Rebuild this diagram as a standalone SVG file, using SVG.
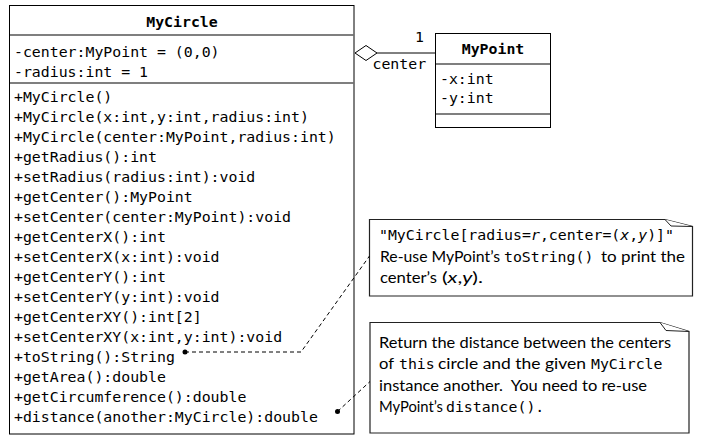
<svg xmlns="http://www.w3.org/2000/svg" width="703" height="443" viewBox="0 0 703 443">
<style>
.mono{font-family:"DejaVu Sans Mono","Liberation Mono",monospace;font-size:14.85px;fill:#000}
.b{font-weight:bold}
.sans{font-family:Lato,"Liberation Sans",sans-serif;font-size:15.5px;fill:#000}
.it{font-style:italic}
.box{fill:#fff;stroke:#000;stroke-width:1}
.sep{stroke:#555;stroke-width:1.4;fill:none}
.note{fill:#fff;stroke:#222;stroke-width:1.2}
.fold{fill:#fff;stroke:#222;stroke-width:1}
.dash{stroke:#000;stroke-width:1;stroke-dasharray:4 3;fill:none}
.line{stroke:#000;stroke-width:1;fill:none}
</style>
<rect width="703" height="443" fill="#fff"/>
<g id="MyCircle">
<rect class="box" x="9.5" y="5.5" width="344.5" height="428.5"/>
<line class="sep" x1="10" y1="35" x2="353.5" y2="35"/>
<line class="sep" x1="10" y1="83" x2="353.5" y2="83"/>
<text class="mono b" x="182" y="27" text-anchor="middle">MyCircle</text>
<text class="mono" x="14" y="57">-center:MyPoint = (0,0)</text>
<text class="mono" x="14" y="77">-radius:int = 1</text>
<text class="mono" x="14" y="102">+MyCircle()</text>
<text class="mono" x="14" y="122">+MyCircle(x:int,y:int,radius:int)</text>
<text class="mono" x="14" y="142">+MyCircle(center:MyPoint,radius:int)</text>
<text class="mono" x="14" y="162">+getRadius():int</text>
<text class="mono" x="14" y="182">+setRadius(radius:int):void</text>
<text class="mono" x="14" y="202">+getCenter():MyPoint</text>
<text class="mono" x="14" y="222">+setCenter(center:MyPoint):void</text>
<text class="mono" x="14" y="242">+getCenterX():int</text>
<text class="mono" x="14" y="262">+setCenterX(x:int):void</text>
<text class="mono" x="14" y="282">+getCenterY():int</text>
<text class="mono" x="14" y="302">+setCenterY(y:int):void</text>
<text class="mono" x="14" y="322">+getCenterXY():int[2]</text>
<text class="mono" x="14" y="342">+setCenterXY(x:int,y:int):void</text>
<text class="mono" x="14" y="362">+toString():String</text>
<text class="mono" x="14" y="382">+getArea():double</text>
<text class="mono" x="14" y="402">+getCircumference():double</text>
<text class="mono" x="14" y="422">+distance(another:MyCircle):double</text>
</g>
<g id="MyPoint">
<rect class="box" x="435.5" y="33.5" width="115" height="94"/>
<line class="sep" x1="436" y1="64" x2="550" y2="64"/>
<line class="sep" x1="436" y1="114" x2="550" y2="114"/>
<text class="mono b" x="493" y="54" text-anchor="middle">MyPoint</text>
<text class="mono" x="440" y="84">-x:int</text>
<text class="mono" x="440" y="103">-y:int</text>
</g>
<g id="note1">
<path class="note" d="M369.5,219.5 H665 L692.5,226.5 V296 H369.5 Z"/>
<path class="fold" d="M665,219.5 L671,226 L692.5,226.5"/>
<text class="mono" x="379" y="240">"MyCircle[radius=<tspan class="it">r</tspan>,center=(<tspan class="it">x</tspan>,<tspan class="it">y</tspan>)]"</text>
<text class="sans" x="380" y="261.5" textLength="120" lengthAdjust="spacingAndGlyphs">Re-use MyPoint’s</text>
<text class="mono" x="504" y="261.5">toString()</text>
<text class="sans" x="601" y="261.5" textLength="84" lengthAdjust="spacingAndGlyphs">to print the</text>
<text class="sans" x="380" y="283" textLength="57" lengthAdjust="spacingAndGlyphs">center’s</text>
<text class="sans" x="442" y="283" textLength="41" lengthAdjust="spacingAndGlyphs">(<tspan class="it">x</tspan>,<tspan class="it">y</tspan>).</text>
</g>
<g id="note2">
<path class="note" d="M370,322.5 H660 L689,331.5 V433 H370 Z"/>
<path class="fold" d="M660,322.5 L666,330.5 L689,331.5"/>
<text class="sans" x="379" y="347.5" textLength="292" lengthAdjust="spacingAndGlyphs">Return the distance between the centers</text>
<text class="sans" x="379" y="369" textLength="15" lengthAdjust="spacingAndGlyphs">of</text>
<text class="mono" x="399" y="369">this</text>
<text class="sans" x="438" y="369" textLength="148" lengthAdjust="spacingAndGlyphs">circle and the given</text>
<text class="mono" x="591" y="369">MyCircle</text>
<text class="sans" x="379" y="390.5" textLength="268" lengthAdjust="spacingAndGlyphs" style="white-space:pre">instance another.  You need to re-use</text>
<text class="sans" x="379" y="412" textLength="64" lengthAdjust="spacingAndGlyphs">MyPoint’s</text>
<text class="mono" x="446" y="412">distance().</text>
</g>
<g id="connectors">
<path class="line" d="M377,53 H435.5"/>
<path d="M355,53 L366,45.5 L377,53 L366,60.5 Z" fill="#fff" stroke="#000" stroke-width="1"/>
<text class="mono" x="415" y="42">1</text>
<text class="mono" x="372.5" y="69">center</text>
<path class="dash" d="M185,352 H301 L369.5,256"/>
<circle cx="185" cy="352" r="2.5" fill="#000"/>
<path class="dash" d="M337.5,411.5 L370,381.5"/>
<circle cx="337.5" cy="411.5" r="2.5" fill="#000"/>
</g>
</svg>
